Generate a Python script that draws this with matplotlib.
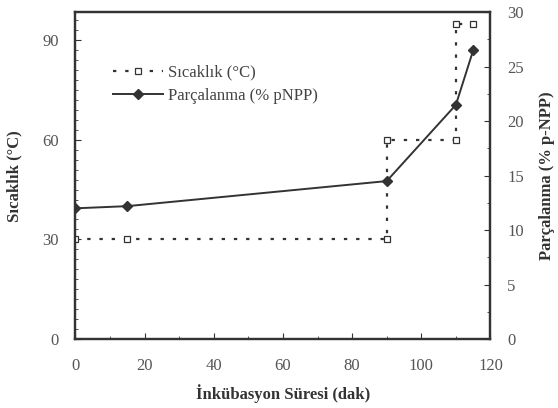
import matplotlib
matplotlib.use("Agg")
import matplotlib.pyplot as plt
from matplotlib.ticker import MultipleLocator
from matplotlib.lines import Line2D

plt.rcParams['font.family'] = ['Liberation Serif', 'DejaVu Serif']

# Temperature step profile (°C)
temp_time = [0, 15, 90, 90, 110, 110, 115]
temp_vals = [30, 30, 30, 60, 60, 95, 95]

# Degradation (% pNPP)
deg_time = [0, 15, 90, 110, 115]
deg_vals = [12.0, 12.2, 14.5, 21.5, 26.5]

x_ticks = [0, 20, 40, 60, 80, 100, 120]
left_ticks = [0, 30, 60, 90]
right_ticks = [0, 5, 10, 15, 20, 25, 30]

fig = plt.figure(figsize=(5.58, 4.08), dpi=100)
ax = fig.add_axes([0.135, 0.169, 0.744, 0.801])
ax2 = ax.twinx()

tc = '#555555'
ax.plot(temp_time, temp_vals, linestyle=(0, (1.5, 4)), color='#333333', lw=1.6,
        marker='s', markersize=4, markerfacecolor='white', markeredgecolor='#333333',
        markeredgewidth=0.9, zorder=3)
ax2.plot(deg_time, deg_vals, linestyle='-', color='#333333', lw=1.4,
         marker='D', markersize=5, markerfacecolor='#333333', markeredgecolor='#333333', zorder=3)

ax.set_xlim(0, 120)
ax.set_ylim(0, 98.4)
ax2.set_ylim(0, 30)
ax.set_xticks(x_ticks)
ax.set_yticks(left_ticks)
ax2.set_yticks(right_ticks)
ax.xaxis.set_minor_locator(MultipleLocator(10))
ax.yaxis.set_minor_locator(MultipleLocator(3))
ax2.yaxis.set_minor_locator(MultipleLocator(2.5))

for a in (ax, ax2):
    for s in a.spines.values():
        s.set_linewidth(1.6)
        s.set_color('#333333')
ax.tick_params(axis='both', which='both', direction='in', colors='#333333', labelcolor=tc,
               labelsize=12)
ax.tick_params(axis='x', pad=14)
ax.tick_params(axis='y', pad=12)
ax.tick_params(which='major', length=4)
ax.tick_params(which='minor', length=2.5)
ax.tick_params(axis='y', which='both', right=False)
ax.tick_params(axis='x', which='both', top=False)
ax2.tick_params(axis='y', which='both', direction='in', colors='#333333', labelcolor=tc,
                labelsize=12, pad=12)
ax2.tick_params(which='major', length=4)
ax2.tick_params(which='minor', length=2.5)

ax.set_xlabel('İnkübasyon Süresi (dak)', fontsize=12, fontweight='bold', color='#333333', labelpad=7)
ax.set_ylabel('Sıcaklık (°C)', fontsize=12, fontweight='bold', color='#333333', labelpad=14)
ax2.set_ylabel('Parçalanma (% p-NPP)', fontsize=12, fontweight='bold', color='#333333', labelpad=11)

handles = [
    Line2D([], [], linestyle=(0, (1.5, 4)), color='#333333', lw=1.6, marker='s', markersize=4,
           markerfacecolor='white', markeredgecolor='#333333', markeredgewidth=0.9),
    Line2D([], [], linestyle='-', color='#333333', lw=1.4, marker='D', markersize=5,
           markerfacecolor='#333333'),
]
leg = ax.legend(handles, ['Sıcaklık (°C)', 'Parçalanma (% pNPP)'], loc='upper left',
                bbox_to_anchor=(0.055, 0.885), frameon=False, fontsize=12, handlelength=3.0,
                handletextpad=0.3, labelspacing=0.45)
for t in leg.get_texts():
    t.set_color('#444444')

fig.savefig('out.png', dpi=100)
